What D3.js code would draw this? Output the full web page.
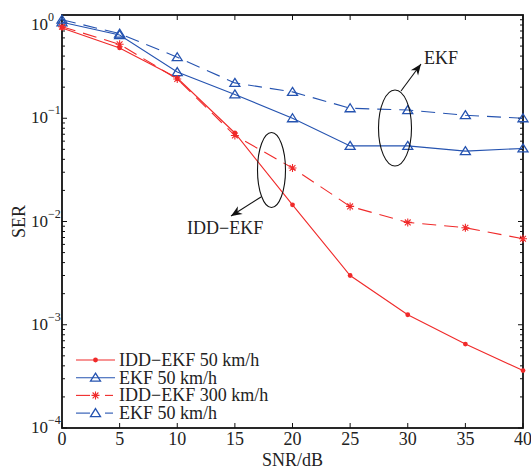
<!DOCTYPE html>
<html>
<head>
<meta charset="utf-8">
<script src="https://cdn.jsdelivr.net/npm/d3@7"></script>
<style>
  body { margin: 0; background: #fff; }
  svg text { font-family: "Liberation Serif", "DejaVu Serif", serif; fill: #222; }
</style>
</head>
<body>
<div id="chart"></div>
<script>
// datos
const snr = [0, 5, 10, 15, 20, 25, 30, 35, 40];
const iddEkf50  = [0.75, 0.48, 0.245, 0.072, 0.0145, 0.003, 0.00125, 0.00065, 0.00036];
const ekf50     = [0.85, 0.64, 0.28, 0.17, 0.10, 0.054, 0.054, 0.048, 0.051];
const iddEkf300 = [0.77, 0.52, 0.24, 0.068, 0.033, 0.014, 0.0098, 0.0087, 0.0068];
const ekf300    = [0.90, 0.66, 0.39, 0.22, 0.18, 0.125, 0.12, 0.107, 0.10];

const legendLabels = ["IDD\u2212EKF 50 km/h", "EKF 50 km/h", "IDD\u2212EKF 300 km/h", "EKF 50 km/h"];
const xTicks = [0, 5, 10, 15, 20, 25, 30, 35, 40];
const yTicks = [1e-4, 1e-3, 1e-2, 1e-1, 1];

// estilo
const RED = "#f02a2a";
const BLUE = "#2553b0";
const W = 531, H = 469;
const M = { l: 62, r: 8, t: 15, b: 41 };
const FS = "18px";

const series = [
  { y: iddEkf50,  color: RED,  dash: null,   marker: "dot" },
  { y: ekf50,     color: BLUE, dash: null,   marker: "tri" },
  { y: iddEkf300, color: RED,  dash: "14,8", marker: "star" },
  { y: ekf300,    color: BLUE, dash: "14,8", marker: "tri" }
];

const svg = d3.select("#chart").append("svg")
  .attr("width", W).attr("height", H);

const x = d3.scaleLinear().domain([0, 40]).range([M.l, W - M.r]);
const y = d3.scaleLog().domain([1e-4, 1]).range([H - M.b, M.t]);

// ticks (hacia dentro, abajo/arriba e izq/der)
const tk = svg.append("g").attr("stroke", "#111").attr("stroke-width", 1);
xTicks.forEach(v => {
  tk.append("line").attr("x1", x(v)).attr("x2", x(v)).attr("y1", y(1e-4)).attr("y2", y(1e-4) - 5);
  tk.append("line").attr("x1", x(v)).attr("x2", x(v)).attr("y1", y(1)).attr("y2", y(1) + 5);
});
const minor = [];
for (let e = -4; e < 0; e++) for (let k = 1; k < 10; k++) minor.push(k * Math.pow(10, e));
minor.forEach(v => {
  const len = (Math.abs(Math.log10(v) - Math.round(Math.log10(v))) < 1e-9) ? 5 : 3;
  tk.append("line").attr("x1", x(0)).attr("x2", x(0) + len).attr("y1", y(v)).attr("y2", y(v));
  tk.append("line").attr("x1", x(40)).attr("x2", x(40) - len).attr("y1", y(v)).attr("y2", y(v));
});

// marco
svg.append("rect")
  .attr("x", x(0)).attr("y", y(1))
  .attr("width", x(40) - x(0)).attr("height", y(1e-4) - y(1))
  .attr("fill", "none").attr("stroke", "#111").attr("stroke-width", 1.8);

// etiquetas de ejes
svg.append("g").selectAll("text").data(xTicks).enter().append("text")
  .attr("x", d => x(d)).attr("y", H - M.b + 17)
  .attr("text-anchor", "middle").attr("font-size", FS)
  .text(d => d);

const yl = svg.append("g").selectAll("text").data(yTicks).enter().append("text")
  .attr("x", 31)
  .attr("y", d => Math.max(y(d) + 5, 30))
  .attr("font-size", "17px");
yl.append("tspan").text("10");
yl.append("tspan").attr("dy", -9).attr("font-size", "12px")
  .text(d => { const e = Math.round(Math.log10(d)); return e < 0 ? "\u2212" + (-e) : e; });

svg.append("text").attr("x", (x(0) + x(40)) / 2).attr("y", H - 3)
  .attr("text-anchor", "middle").attr("font-size", FS).text("SNR/dB");
svg.append("text").attr("transform", `translate(25,${(y(1) + y(1e-4)) / 2}) rotate(-90)`)
  .attr("text-anchor", "middle").attr("font-size", FS).text("SER");

// marcadores
function drawMarker(g, kind, cx, cy, color) {
  if (kind === "dot") {
    g.append("circle").attr("cx", cx).attr("cy", cy).attr("r", 2.4).attr("fill", color);
  } else if (kind === "tri") {
    g.append("path")
      .attr("d", `M${cx},${cy - 4.5}L${cx + 5},${cy + 3.5}L${cx - 5},${cy + 3.5}Z`)
      .attr("fill", "none").attr("stroke", color).attr("stroke-width", 1.3);
  } else {
    const r = 4, d = 2.9;
    g.append("path")
      .attr("d", `M${cx - r},${cy}H${cx + r}M${cx},${cy - r}V${cy + r}` +
                 `M${cx - d},${cy - d}L${cx + d},${cy + d}M${cx - d},${cy + d}L${cx + d},${cy - d}`)
      .attr("stroke", color).attr("stroke-width", 1.1);
  }
}

const line = d3.line().x((d, i) => x(snr[i])).y(d => y(d));
const plot = svg.append("g");
series.forEach(s => {
  plot.append("path").datum(s.y)
    .attr("d", line)
    .attr("fill", "none").attr("stroke", s.color).attr("stroke-width", 1.1)
    .attr("stroke-dasharray", s.dash);
  s.y.forEach((v, i) => drawMarker(plot, s.marker, x(snr[i]), y(v), s.color));
});

// leyenda
const lg = svg.append("g");
legendLabels.forEach((t, i) => {
  const s = series[i];
  const ly = 360 + i * 17.7;
  if (s.dash) {
    lg.append("line").attr("x1", 76).attr("x2", 90).attr("y1", ly).attr("y2", ly)
      .attr("stroke", s.color).attr("stroke-width", 1.1);
    lg.append("line").attr("x1", 105).attr("x2", 113).attr("y1", ly).attr("y2", ly)
      .attr("stroke", s.color).attr("stroke-width", 1.1);
  } else {
    lg.append("line").attr("x1", 76).attr("x2", 115).attr("y1", ly).attr("y2", ly)
      .attr("stroke", s.color).attr("stroke-width", 1.1);
  }
  drawMarker(lg, s.marker, 95.5, ly, s.color);
  lg.append("text").attr("x", 119).attr("y", ly + 6).attr("font-size", FS).text(t);
});

// anotaciones: elipses y flechas
function arrow(x1, y1, x2, y2) {
  svg.append("line").attr("x1", x1).attr("y1", y1).attr("x2", x2).attr("y2", y2)
    .attr("stroke", "#111").attr("stroke-width", 1.1);
  const a = Math.atan2(y2 - y1, x2 - x1);
  const L = 11, Wd = 4.5;
  const bx = x2 - L * Math.cos(a), by = y2 - L * Math.sin(a);
  const nx = -Math.sin(a), ny = Math.cos(a);
  const mx = x2 - 0.7 * L * Math.cos(a), my = y2 - 0.7 * L * Math.sin(a);
  svg.append("path")
    .attr("d", `M${x2},${y2}L${bx + nx * Wd},${by + ny * Wd}L${mx},${my}L${bx - nx * Wd},${by - ny * Wd}Z`)
    .attr("fill", "#111");
}

svg.append("ellipse").attr("cx", 395).attr("cy", 128).attr("rx", 16.5).attr("ry", 38)
  .attr("fill", "none").attr("stroke", "#111").attr("stroke-width", 1.1);
arrow(401, 91, 421, 64);
svg.append("text").attr("x", 424).attr("y", 64).attr("font-size", FS).text("EKF");

svg.append("ellipse").attr("cx", 271.5).attr("cy", 170).attr("rx", 14).attr("ry", 37.5)
  .attr("fill", "none").attr("stroke", "#111").attr("stroke-width", 1.1);
arrow(261, 197, 231, 216);
svg.append("text").attr("x", 187).attr("y", 234).attr("font-size", FS).text("IDD\u2212EKF");
</script>
</body>
</html>
